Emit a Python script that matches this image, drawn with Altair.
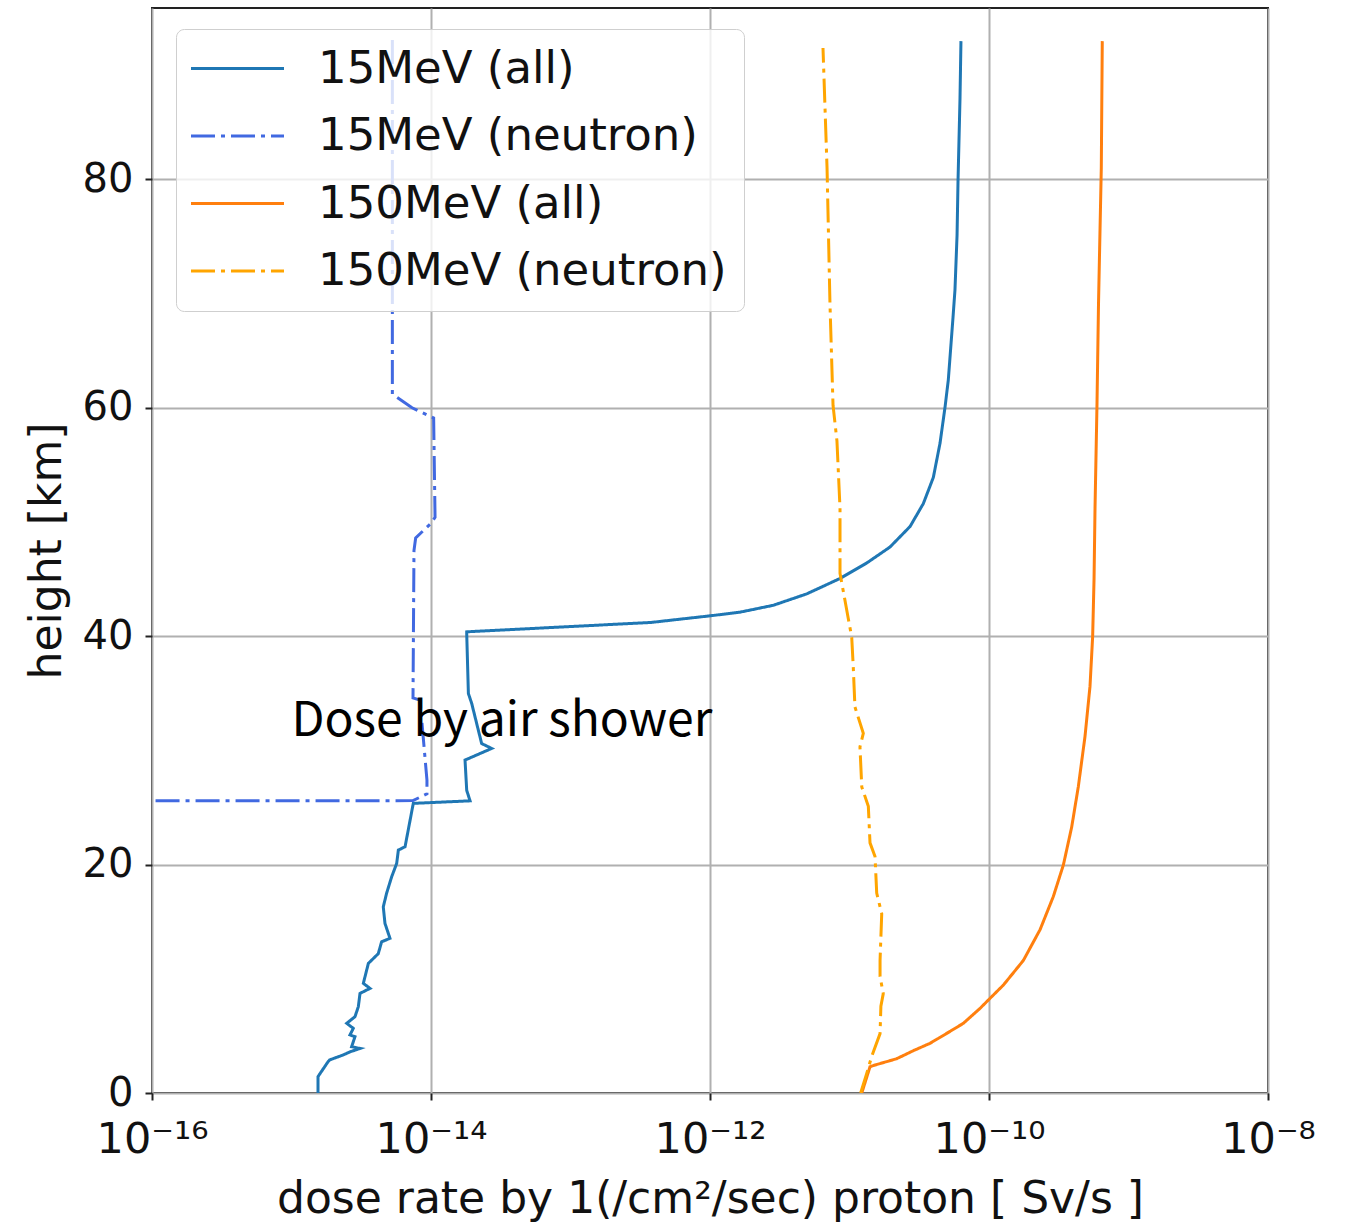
import altair as alt
import pandas as pd

# ---------------- data (log10 of dose rate [Sv/s] vs height [km]) ----------------
SERIES = ["15MeV (all)", "15MeV (neutron)", "150MeV (all)", "150MeV (neutron)"]
COLORS = ["#1f77b4", "#4169e1", "#ff7f0e", "#ffa500"]

H15_ALL = [0, 1.43, 1.87, 2.74, 2.9, 3.33, 3.6, 3.9, 4.05, 4.93, 5.08, 5.66, 6.1, 6.68, 7.55,
           8.72, 9.16, 9.6, 11.35, 12.2, 13.24, 13.54, 14.85, 16.3, 17.5, 18.93, 20.1, 21.27,
           21.56, 25.36, 25.58, 26.5, 29.15, 30.17, 30.6, 34.1, 34.98, 40.24, 40.38, 41.2, 41.8,
           42.1, 42.7, 43.7, 45.05, 46.4, 47.8, 49.6, 51.6, 53.9, 56.9, 60.07, 62.4, 67.9, 70.3,
           75.1, 79.9, 87.0, 92.1]
L15_ALL = [-14.810, -14.810, -14.786, -14.738, -14.726, -14.630, -14.581, -14.509, -14.569,
           -14.545, -14.581, -14.557, -14.604, -14.545, -14.521, -14.509, -14.437, -14.485,
           -14.449, -14.378, -14.354, -14.294, -14.330, -14.342, -14.318, -14.282, -14.246,
           -14.234, -14.186, -14.127, -13.720, -13.744, -13.756, -13.565, -13.637, -13.708,
           -13.732, -13.744, -13.744, -12.423, -11.986,
           -11.785, -11.547, -11.307, -11.068, -10.877, -10.710, -10.566, -10.471, -10.399,
           -10.351, -10.315, -10.292, -10.258, -10.244, -10.229, -10.222, -10.208, -10.201]

H15_N = [92.2, 61.2, 60.0, 59.1, 50.4, 49.8, 48.6, 47.5, 34.6, 34.4, 27.4, 26.2, 25.6, 25.5, 0]
L15_N = [-14.277, -14.277, -14.136, -13.981, -13.971, -14.007, -14.110, -14.122, -14.129,
         -14.079, -14.029, -14.029, -14.129, -30.0, -30.0]

H150_ALL = [0, 2.3, 2.45, 3.0, 3.7, 4.35, 5.22, 6.1, 7.4, 8.43, 9.45, 11.6, 14.3, 17.2, 19.96,
            23.3, 26.8, 31.2, 35.6, 39.96, 45.0, 51.2, 60.2, 69.1, 81.0, 92.1]
L150_ALL = [-10.912, -10.853, -10.817, -10.662, -10.543, -10.423, -10.303, -10.184, -10.065,
            -9.981, -9.897, -9.754, -9.634, -9.539, -9.467, -9.407, -9.360, -9.312, -9.276,
            -9.257, -9.247, -9.240, -9.226, -9.215, -9.195, -9.188]

H150_N = [0, 1.7, 3.2, 5.2, 7.6, 8.7, 10.2, 11.6, 15.7, 17.5, 20.7, 21.9, 25.1, 26.8, 30.3,
          31.5, 33.8, 37.3, 39.9, 45.5, 51.2, 57.1, 60.2, 69.1, 81.0, 91.5]
L150_N = [-10.920, -10.877, -10.841, -10.781, -10.775, -10.758, -10.781, -10.781, -10.769,
          -10.805, -10.817, -10.853, -10.865, -10.912, -10.925, -10.901, -10.961, -10.973,
          -10.984, -11.068, -11.068, -11.090, -11.118, -11.140, -11.161, -11.190]

X_TICKS = [1e-16, 1e-14, 1e-12, 1e-10, 1e-8]
X_TICK_LABELS = ["10⁻¹⁶", "10⁻¹⁴", "10⁻¹²", "10⁻¹⁰", "10⁻⁸"]
Y_TICKS = [0, 20, 40, 60, 80]

ANNOT_TEXT = ["Dose by air shower"]
ANNOT_X = [1e-15]
ANNOT_Y = [31.3]

X_TITLE = "dose rate by 1(/cm²/sec) proton [ Sv/s ]"
Y_TITLE = "height [km]"

# ---------------- table ----------------
rows = []
for name, hs, ls in [(SERIES[0], H15_ALL, L15_ALL), (SERIES[1], H15_N, L15_N),
                     (SERIES[2], H150_ALL, L150_ALL), (SERIES[3], H150_N, L150_N)]:
    for i, (h, l) in enumerate(zip(hs, ls)):
        rows.append({"series": name, "idx": i, "height": h, "dose": 10.0 ** l})
df = pd.DataFrame(rows)
ann = pd.DataFrame({"text": ANNOT_TEXT, "dose": ANNOT_X, "height": ANNOT_Y})

# label expression from tick lists
expr = "''"
for v, lab in reversed(list(zip(X_TICKS, X_TICK_LABELS))):
    expr = f"(abs(log(datum.value) - log({v})) < 0.1 ? '{lab}' : {expr})"

FONT = "DejaVu Sans"
xscale = alt.Scale(type="log", domain=[1e-16, 1e-8], nice=False)
yscale = alt.Scale(domain=[0, 95], nice=False, zero=False)

leg = alt.Legend(orient="none", legendX=24, legendY=21, title=None,
                 labelFont=FONT, labelFontSize=45, labelColor="#111",
                 symbolType="M-3,0H3", symbolSize=961, symbolStrokeWidth=3,
                 symbolOffset=22, labelOffset=58, rowPadding=21.5, padding=17,
                 fillColor="rgba(255,255,255,0.8)", strokeColor="#cfcfcf",
                 cornerRadius=8, labelLimit=0)

x_enc = alt.X("dose:Q", scale=xscale,
              axis=alt.Axis(values=X_TICKS, labelExpr=expr, title=X_TITLE, labelFlush=False))
y_enc = alt.Y("height:Q", scale=yscale, axis=alt.Axis(values=Y_TICKS, title=Y_TITLE))

lines = alt.Chart(df).mark_line(strokeWidth=3, clip=True).encode(
    x=x_enc,
    y=y_enc,
    color=alt.Color("series:N", scale=alt.Scale(domain=SERIES, range=COLORS), legend=leg),
    strokeDash=alt.StrokeDash("series:N",
                              scale=alt.Scale(domain=SERIES,
                                              range=[[1, 0], [24, 6, 4, 6], [1, 0], [24, 6, 4, 6]]),
                              legend=leg),
    order=alt.Order("idx:Q"),
)

text = alt.Chart(ann).mark_text(align="left", baseline="alphabetic",
                                font="Noto Sans CJK JP", fontSize=48, color="black").encode(
    x=alt.X("dose:Q", scale=xscale),
    y=alt.Y("height:Q", scale=yscale),
    text="text:N",
)

chart = alt.layer(lines, text).properties(
    width=1116, height=1085,
    autosize=alt.AutoSizeParams(type="none"),
    padding={"left": 152, "top": 8, "right": 80, "bottom": 129},
    background="white",
).configure_view(
    stroke="#222", strokeWidth=2,
).configure_axis(
    labelFont=FONT, labelFontSize=43, labelColor="#111",
    titleFont=FONT, titleFontSize=44, titleFontWeight="normal", titleColor="#111",
    tickSize=7, tickWidth=2, tickColor="#222",
    domain=False, grid=True, gridColor="#b0b0b0", gridWidth=2,
).configure_axisX(
    labelPadding=18, titlePadding=16,
).configure_axisY(
    labelPadding=12, titlePadding=13, labelFontSize=40,
)

chart.save("out.html", embed_options={"renderer": "svg", "actions": False})
